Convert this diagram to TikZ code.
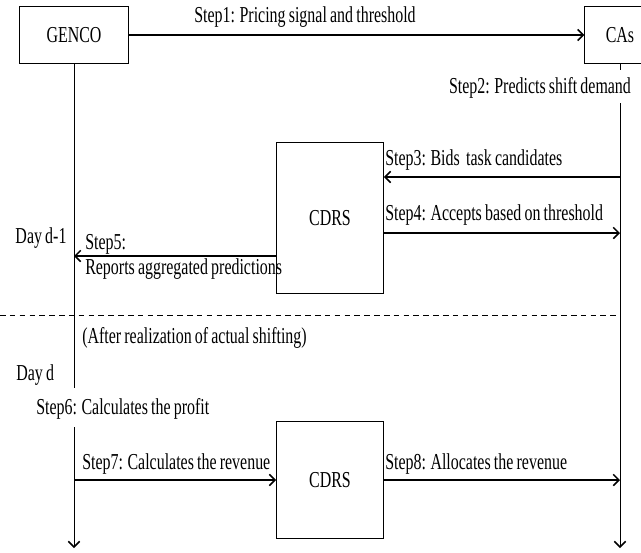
\documentclass[tikz,border=0pt]{standalone}
\usepackage{fontspec}
\setmainfont[FakeStretch=0.70, WordSpace=0.8]{Liberation Serif}
\usepackage{tikz}
\usetikzlibrary{arrows.meta, positioning}

\begin{document}
\begin{tikzpicture}[x=0.025cm, y=-0.025cm,
        >={Straight Barb[length=4pt, width=8pt, line width=1.1pt]},
        every node/.style={font=\fontsize{16.2}{18}\selectfont},
        box/.style={draw, line width=0.7pt, inner sep=0pt, align=center},
        arr/.style={->, line width=0.9pt},
        life/.style={line width=0.7pt},
        lbl/.style={inner sep=0pt, anchor=west},
    ]
    \useasboundingbox (0,0) rectangle (641,553);

    % ---- Actors ----
    \node[box, minimum width=78, minimum height=40] (genco) at (74, 35) {GENCO};
    \node[box, minimum width=50, minimum height=40] (cas) at (620, 35) {CAs};

    % ---- Lifelines ----
    \coordinate (g1) at (74, 388);
    \coordinate (g2) at (74, 427);
    \coordinate (gend) at (74, 548);
    \coordinate (c1) at (620, 70);
    \coordinate (c2) at (620, 103);
    \coordinate (cend) at (620, 548);
    \draw[life] (genco.south -| g1) -- (g1);
    \draw[life, ->] (g2) -- (gend);
    \draw[life] (cas.south) -- (c1);
    \draw[life, ->] (c2) -- (cend);

    % ---- Day d-1 ----
    \node[lbl, anchor=north] (s1) at (305, 6) {Step1: Pricing signal and threshold};
    \draw[arr] (genco.east) -- (cas.west);

    \node[inner sep=0pt] (s2) at (540, 88) {Step2: Predicts shift demand};

    \node[box, minimum width=76, minimum height=107] (cdrs1) at (330, 218) {CDRS};

    \coordinate (c3) at (620, 177);
    \coordinate (c4) at (620, 233);
    \coordinate (g5) at (74, 256);
    \draw[arr] (c3) -- (c3 -| cdrs1.east);
    \node[lbl] (s3) at (385, 160) {Step3: Bids~ task candidates};
    \draw[arr] (c4 -| cdrs1.east) -- (c4);
    \node[lbl] (s4) at (385, 215) {Step4: Accepts based on threshold};
    \draw[arr] (g5 -| cdrs1.west) -- (g5);
    \node[lbl] (s5a) at (85, 244) {Step5:};
    \node[lbl] (s5b) at (85, 269) {Reports aggregated predictions};

    \node[inner sep=0pt] (dayd1) at (41, 238) {Day d-1};

    % ---- Separator ----
    \coordinate (sepl) at (0, 315);
    \draw[life, dashed, dash pattern=on 4pt off 3pt] (sepl) -- (sepl -| cend);

    % ---- Day d ----
    \node[lbl] (after) at (82, 338) {(After realization of actual shifting)};
    \node[lbl] (dayd) at (16, 375) {Day d};
    \node[lbl] (s6) at (36, 409) {Step6: Calculates the profit};

    \node[box, minimum width=76, minimum height=83] (cdrs2) at (330, 480) {CDRS};

    \draw[arr] (cdrs2.west -| gend) -- (cdrs2.west);
    \node[lbl] (s7) at (82, 464) {Step7: Calculates the revenue};
    \draw[arr] (cdrs2.east) -- (cdrs2.east -| cend);
    \node[lbl] (s8) at (385, 464) {Step8: Allocates the revenue};

\end{tikzpicture}
\end{document}
